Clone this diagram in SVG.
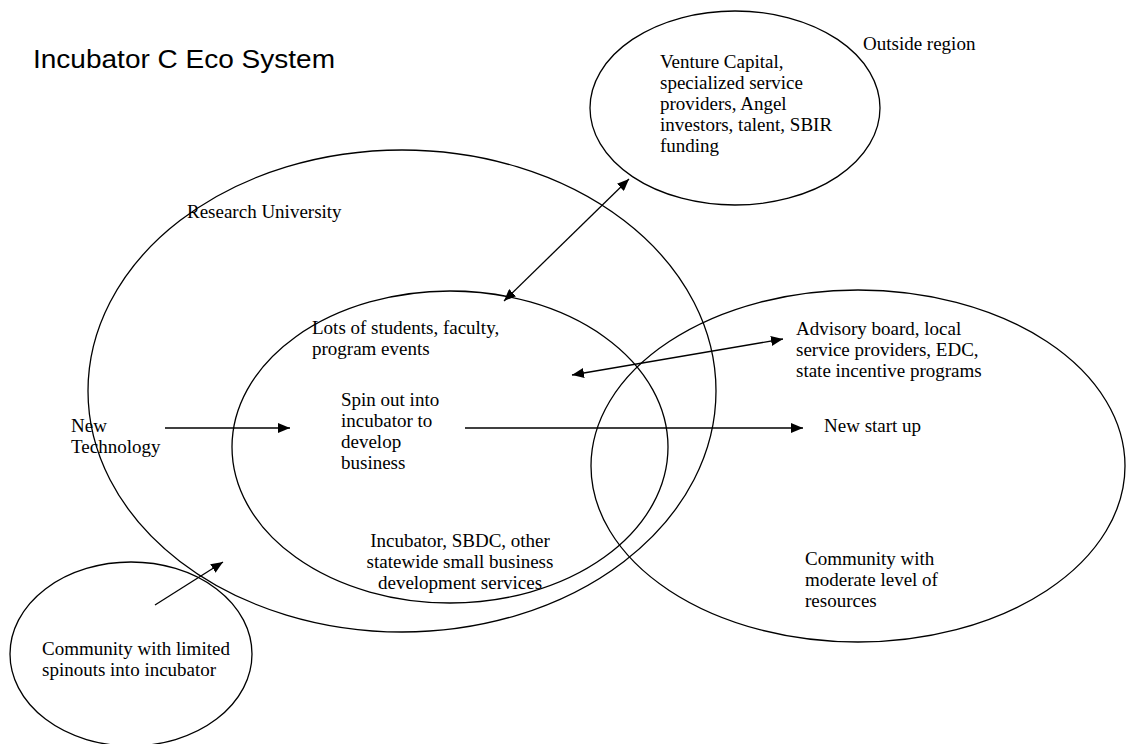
<svg xmlns="http://www.w3.org/2000/svg" width="1126" height="744" viewBox="0 0 1126 744">
  <style>
    .ring { fill: none; stroke: #000; stroke-width: 1.3; }
    .link { fill: none; stroke: #000; stroke-width: 1.3; }
    .lbl { font-family: "Liberation Serif", "Times New Roman", serif; font-size: 19px; fill: #000; }
    .title { font-family: "Liberation Sans", Arial, sans-serif; font-size: 25px; fill: #000; }
  </style>
  <defs>
    <marker id="head" viewBox="0 0 12 10" refX="12" refY="5" markerWidth="12" markerHeight="10" markerUnits="userSpaceOnUse" orient="auto-start-reverse">
      <path d="M0,0 L12,5 L0,10 Z" fill="#000"/>
    </marker>
  </defs>
  <rect width="1126" height="744" fill="#fff"/>

  <text class="title" x="33" y="68" textLength="302" lengthAdjust="spacingAndGlyphs">Incubator C Eco System</text>

  <g id="outside-region">
    <ellipse class="ring" cx="735" cy="108" rx="145" ry="97"/>
    <text class="lbl" x="863" y="50">Outside region</text>
    <text class="lbl" x="660" y="68">Venture Capital,</text>
    <text class="lbl" x="660" y="89">specialized service</text>
    <text class="lbl" x="660" y="110">providers, Angel</text>
    <text class="lbl" x="660" y="131">investors, talent, SBIR</text>
    <text class="lbl" x="660" y="152">funding</text>
  </g>

  <g id="research-university">
    <ellipse class="ring" cx="402" cy="391" rx="314" ry="241"/>
    <text class="lbl" x="187" y="218">Research University</text>
  </g>

  <g id="incubator">
    <ellipse class="ring" cx="450" cy="447" rx="218" ry="156"/>
    <text class="lbl" x="312" y="334">Lots of students, faculty,</text>
    <text class="lbl" x="312" y="355">program events</text>
    <text class="lbl" x="341" y="406">Spin out into</text>
    <text class="lbl" x="341" y="427">incubator to</text>
    <text class="lbl" x="341" y="448">develop</text>
    <text class="lbl" x="341" y="469">business</text>
    <text class="lbl" x="460" y="547" text-anchor="middle">Incubator, SBDC, other</text>
    <text class="lbl" x="460" y="568" text-anchor="middle">statewide small business</text>
    <text class="lbl" x="460" y="589" text-anchor="middle">development services</text>
  </g>

  <g id="community-moderate">
    <ellipse class="ring" cx="858" cy="466" rx="267" ry="176"/>
    <text class="lbl" x="796" y="335">Advisory board, local</text>
    <text class="lbl" x="796" y="356">service providers, EDC,</text>
    <text class="lbl" x="796" y="377">state incentive programs</text>
    <text class="lbl" x="824" y="432">New start up</text>
    <text class="lbl" x="805" y="565">Community with</text>
    <text class="lbl" x="805" y="586">moderate level of</text>
    <text class="lbl" x="805" y="607">resources</text>
  </g>

  <g id="community-limited">
    <ellipse class="ring" cx="131" cy="654" rx="121" ry="92"/>
    <text class="lbl" x="42" y="655">Community with limited</text>
    <text class="lbl" x="42" y="676">spinouts into incubator</text>
  </g>

  <g id="new-technology">
    <text class="lbl" x="71" y="432">New</text>
    <text class="lbl" x="71" y="453">Technology</text>
  </g>

  <g id="connectors">
    <line class="link" x1="165" y1="428" x2="290" y2="428" marker-end="url(#head)"/>
    <line class="link" x1="465" y1="428" x2="803" y2="428" marker-end="url(#head)"/>
    <line class="link" x1="572" y1="375" x2="783" y2="339" marker-start="url(#head)" marker-end="url(#head)"/>
    <line class="link" x1="504" y1="301" x2="629" y2="179" marker-start="url(#head)" marker-end="url(#head)"/>
    <line class="link" x1="155" y1="605" x2="223" y2="562" marker-end="url(#head)"/>
  </g>
</svg>
